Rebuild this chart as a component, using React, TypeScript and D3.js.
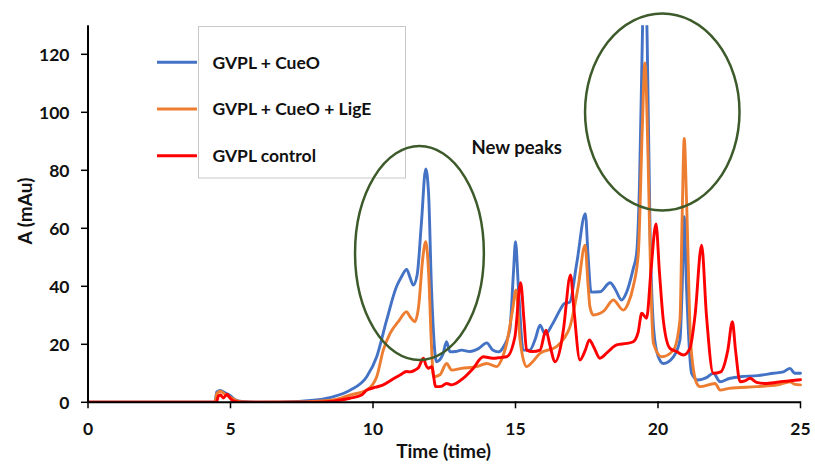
import React from "react";
import * as d3 from "d3";

const xTicks = [0, 5, 10, 15, 20, 25];
const yTicks = [0, 20, 40, 60, 80, 100, 120];

const seriesNames = ["GVPL + CueO", "GVPL + CueO + LigE", "GVPL control"];
const seriesColors = ["#4472C4", "#ED7D31", "#FF0000"];

const tBlue = [0, 4.45, 4.52, 4.64, 4.8, 4.98, 5.15, 5.4, 6.0, 7.4, 8.0, 8.6, 9.2, 9.78, 10.13, 10.48, 10.83, 11.0, 11.18, 11.3, 11.41, 11.55, 11.7, 11.85, 11.95, 12.05, 12.23, 12.45, 12.58, 12.7, 12.9, 13.1, 13.4, 13.7, 13.99, 14.2, 14.4, 14.6, 14.8, 14.93, 15.0, 15.1, 15.27, 15.5, 15.7, 15.86, 16.04, 16.3, 16.6, 16.7, 16.9, 17.15, 17.45, 17.55, 17.65, 17.96, 18.32, 18.5, 18.72, 18.9, 19.13, 19.25, 19.35, 19.45, 19.53, 19.62, 19.72, 19.85, 20.0, 20.19, 20.54, 20.77, 20.85, 20.92, 21.0, 21.18, 21.4, 21.7, 21.94, 22.18, 22.5, 22.88, 23.5, 24.05, 24.4, 24.63, 24.8, 25];
const vBlue = [0, 0, 3.6, 4.1, 3.3, 2.4, 1.0, 0.3, 0, 0.3, 0.8, 1.9, 4.2, 8.8, 15.7, 28.4, 40, 43.3, 45.8, 43, 40.4, 44, 62, 80.5, 72, 40, 14, 16.5, 20.9, 17.4, 17.5, 18, 17.5, 18.5, 20.5, 18, 17.4, 19.5, 25, 45, 55.4, 40, 18, 18, 22, 26.6, 23.5, 27, 32.5, 34, 34.5, 48, 65, 50, 38, 38.1, 41.2, 39, 35.3, 38, 46, 51.4, 75, 125, 160, 125, 60, 25, 16, 13.4, 15.7, 21.5, 40, 64, 40, 10, 7.7, 8.5, 10, 7.1, 8.2, 8.8, 9.2, 10, 10.5, 11.7, 10, 10];

const tOrange = [0, 4.45, 4.52, 4.64, 4.8, 4.98, 5.2, 5.5, 6.0, 7.5, 8.0, 8.6, 9.19, 9.78, 10.13, 10.36, 10.6, 10.9, 11.18, 11.3, 11.47, 11.6, 11.75, 11.85, 11.95, 12.05, 12.12, 12.35, 12.58, 12.76, 13.1, 13.64, 13.99, 14.34, 14.5, 14.69, 14.9, 15.02, 15.16, 15.39, 15.6, 15.86, 16.44, 16.7, 16.91, 17.2, 17.44, 17.55, 17.61, 17.73, 18.1, 18.43, 18.78, 18.95, 19.13, 19.31, 19.45, 19.54, 19.65, 19.75, 19.84, 20.13, 20.54, 20.77, 20.85, 20.92, 21.0, 21.15, 21.36, 21.47, 22.0, 22.18, 22.5, 23.46, 24.2, 24.63, 24.8, 25];
const vOrange = [0, 0, 3, 3.8, 2.8, 1.8, 0.6, 0.1, 0, 0.1, 0.4, 0.8, 2.5, 4.2, 8.8, 18, 23.8, 28, 31.2, 29.5, 27.8, 33, 50, 55.4, 45, 20, 8.8, 9.5, 13.4, 11.1, 11.7, 12.3, 13.4, 12.3, 14.5, 20.3, 32, 38.7, 21.5, 12.3, 14, 16.9, 19.2, 22, 26, 39.9, 54.2, 40, 33, 30.1, 31.5, 35.3, 31.8, 34, 39.9, 51.4, 95, 117, 85, 40, 20.3, 15.7, 18, 28.4, 65, 91, 70, 20, 6.5, 5.4, 6.5, 4.2, 4.8, 5.4, 6, 7.1, 6.2, 6];

const tRed = [0, 4.5, 4.58, 4.65, 4.75, 4.88, 4.98, 5.1, 5.4, 8.0, 8.6, 9.19, 9.6, 9.78, 10.1, 10.36, 10.7, 10.95, 11.18, 11.3, 11.47, 11.6, 11.77, 11.85, 11.94, 12.06, 12.2, 12.4, 12.58, 12.76, 13.17, 13.5, 13.87, 14.2, 14.5, 14.69, 14.98, 15.18, 15.3, 15.39, 15.6, 15.86, 16.07, 16.2, 16.39, 16.6, 16.68, 16.93, 17.05, 17.26, 17.45, 17.59, 17.75, 17.96, 18.25, 18.55, 18.9, 19.13, 19.3, 19.43, 19.6, 19.75, 19.93, 20.05, 20.19, 20.42, 20.65, 20.89, 21.12, 21.3, 21.53, 21.7, 21.94, 22.2, 22.45, 22.61, 22.72, 22.88, 23.05, 23.23, 23.46, 23.81, 24.4, 25];
const vRed = [0, 0, 2.2, 2.5, 1.5, 2.8, 1.5, 0.5, 0, 0, 0.4, 1.4, 2.5, 4.2, 5.2, 6, 8, 9.4, 10.6, 10.5, 11.1, 12, 15.2, 13, 11.7, 12.3, 5.4, 5.5, 6.5, 6, 8.3, 11.5, 15.7, 15.2, 15.5, 15.7, 22.6, 41.2, 28, 18, 17.5, 18, 24.9, 20, 14, 20, 24.9, 43.9, 32, 14.6, 18, 21.5, 19, 15.2, 17.5, 19.8, 20.3, 20.9, 24, 30.7, 29, 45, 61.5, 45, 28, 18.6, 17.5, 16.3, 18.6, 30, 54.2, 30, 10, 10.5, 18, 27.8, 18, 7.1, 7.4, 8.3, 6.9, 6.5, 7.2, 7.8];

// annotation ellipses in data units: [center t, center v, radius t, radius v]
const ellipseCx = [11.63, 20.15];
const ellipseCy = [51.5, 100.1];
const ellipseRx = [2.26, 2.71];
const ellipseRy = [36.9, 34.0];

const annotationText = "New peaks";
const xTitle = "Time (time)";
const yTitle = "A (mAu)";

const W = 815;
const H = 464;
const FONT = "Lato, 'Open Sans', sans-serif";

export default function App() {
  const x = d3.scaleLinear().domain([0, 25]).range([88, 800.5]);
  const y = d3.scaleLinear().domain([0, 130]).range([402.3, 25.3]);

  const series = [
    tBlue.map((t, i) => [t, vBlue[i]] as [number, number]),
    tOrange.map((t, i) => [t, vOrange[i]] as [number, number]),
    tRed.map((t, i) => [t, vRed[i]] as [number, number]),
  ];

  const line = d3
    .line<[number, number]>()
    .x((d) => x(d[0]))
    .y((d) => y(d[1]))
    .curve(d3.curveMonotoneX);

  const legendY = [62.3, 109, 155.7];

  return (
    <svg
      width={W}
      height={H}
      viewBox={`0 0 ${W} ${H}`}
      style={{ position: "absolute", left: 0, top: 0, background: "#fff" }}
      fontFamily={FONT}
      fontWeight={700}
    >
      <defs>
        <clipPath id="plotclip">
          <rect x={x(0)} y={y(130)} width={x(25) - x(0) + 2} height={y(0) - y(130)} />
        </clipPath>
      </defs>
      <rect x={0} y={0} width={W} height={H} fill="#fff" />

      {/* series */}
      <g clipPath="url(#plotclip)">
        {series.map((s, i) => (
          <path
            key={i}
            d={line(s) || ""}
            fill="none"
            stroke={seriesColors[i]}
            strokeWidth={2.9}
            strokeLinejoin="round"
            strokeLinecap="round"
          />
        ))}
      </g>

      {/* axes */}
      <line x1={x(0)} y1={y(130)} x2={x(0)} y2={y(0)} stroke="#000" strokeWidth={2} />
      <line x1={x(0)} y1={y(0)} x2={x(25)} y2={y(0)} stroke="#000" strokeWidth={2} />
      {yTicks.map((v) => (
        <g key={"y" + v}>
          <line x1={x(0) - 7} x2={x(0)} y1={y(v)} y2={y(v)} stroke="#000" strokeWidth={1.5} />
          <text x={69.5} y={y(v)} dy="0.36em" textAnchor="end" fontSize={17.5} fill="#111">
            {v}
          </text>
        </g>
      ))}
      {xTicks.map((t) => (
        <g key={"x" + t}>
          <line x1={x(t)} x2={x(t)} y1={y(0) - 1} y2={y(0) + 6} stroke="#000" strokeWidth={1.5} />
          <text x={x(t)} y={435} textAnchor="middle" fontSize={17.5} fill="#111">
            {t}
          </text>
        </g>
      ))}

      {/* axis titles */}
      <text x={443.5} y={457.5} textAnchor="middle" fontSize={19} fill="#111">
        {xTitle}
      </text>
      <text
        transform={`translate(31.5,211) rotate(-90)`}
        textAnchor="middle"
        fontSize={19}
        fill="#111"
      >
        {yTitle}
      </text>

      {/* legend */}
      <rect x={198.5} y={26.5} width={207} height={151.5} fill="none" stroke="#c8c8c8" strokeWidth={1} />
      {seriesNames.map((n, i) => (
        <g key={n}>
          <line x1={157} x2={197} y1={legendY[i]} y2={legendY[i]} stroke={seriesColors[i]} strokeWidth={2.9} />
          <text x={212.5} y={legendY[i]} dy="0.36em" fontSize={17.5} fill="#111">
            {n}
          </text>
        </g>
      ))}

      {/* annotations */}
      {ellipseCx.map((cx, i) => (
        <ellipse
          key={"e" + i}
          cx={x(cx)}
          cy={y(ellipseCy[i])}
          rx={x(ellipseRx[i]) - x(0)}
          ry={y(0) - y(ellipseRy[i])}
          fill="none"
          stroke="#3D5B2A"
          strokeWidth={2.5}
        />
      ))}
      <text x={516.7} y={154} textAnchor="middle" fontSize={18.5} fill="#111">
        {annotationText}
      </text>
    </svg>
  );
}
